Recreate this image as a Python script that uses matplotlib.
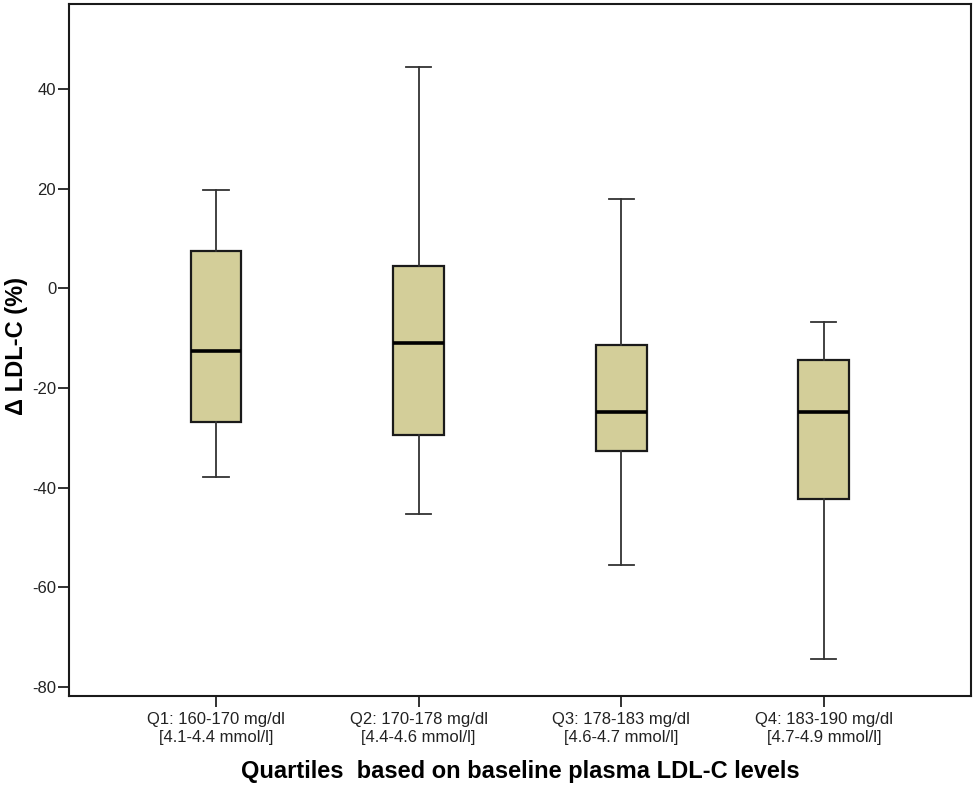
import matplotlib
matplotlib.use("Agg")
import matplotlib.pyplot as plt

categories = ["Q1: 160-170 mg/dl\n[4.1-4.4 mmol/l]",
              "Q2: 170-178 mg/dl\n[4.4-4.6 mmol/l]",
              "Q3: 178-183 mg/dl\n[4.6-4.7 mmol/l]",
              "Q4: 183-190 mg/dl\n[4.7-4.9 mmol/l]"]
whisker_low = [-37.8, -45.4, -55.5, -74.4]
q1_values = [-26.9, -29.5, -32.6, -42.3]
medians = [-12.6, -10.9, -24.8, -24.8]
q3_values = [7.5, 4.5, -11.4, -14.3]
whisker_high = [19.7, 44.4, 17.9, -6.7]
y_ticks = [40, 20, 0, -20, -40, -60, -80]

plt.rcParams['font.family'] = ['Liberation Sans', 'DejaVu Sans']

W, H = 975, 789
fig = plt.figure(figsize=(W / 100, H / 100), dpi=100)
ax = fig.add_axes([0.0705, 0.1183, 0.9255, 0.876])

stats = []
for lab, lo, a, m, b, hi in zip(categories, whisker_low, q1_values, medians, q3_values, whisker_high):
    stats.append(dict(label=lab, whislo=lo, q1=a, med=m, q3=b, whishi=hi, fliers=[]))

positions = [1, 2, 3, 4]
ax.bxp(stats, positions=positions, widths=0.25, patch_artist=True, showfliers=False,
       boxprops=dict(facecolor='#D3CE99', edgecolor='#1a1a1a', linewidth=1.6),
       medianprops=dict(color='black', linewidth=2.6),
       whiskerprops=dict(color='#333333', linewidth=1.3),
       capprops=dict(color='#333333', linewidth=1.3),
       capwidths=0.125)

ax.set_xlim(0.273, 4.727)
ax.set_ylim(-81.8, 57.0)
ax.set_yticks(y_ticks)
ax.set_yticklabels([str(t) for t in y_ticks])
ax.set_xticks(positions)
ax.set_xticklabels(categories, linespacing=1.2)

ax.tick_params(axis='both', direction='out', length=8, width=1.3, labelsize=12, colors='#222222')
ax.tick_params(axis='x', pad=4)
ax.tick_params(axis='y', pad=1)
for s in ax.spines.values():
    s.set_linewidth(1.5)
    s.set_color('#1a1a1a')

ax.set_ylabel("Δ LDL-C (%)", fontsize=17, fontweight='bold', va='center')
ax.set_xlabel("Quartiles  based on baseline plasma LDL-C levels", fontsize=17, fontweight='bold', va='center')

# label positions in axes coordinates (from pixel positions)
ax_left, ax_right, ax_top, ax_bottom = 68.7, 971.0, 4.5, 695.7
ax.yaxis.set_label_coords((16 - ax_left) / (ax_right - ax_left), (ax_bottom - 346) / (ax_bottom - ax_top))
ax.xaxis.set_label_coords((520 - ax_left) / (ax_right - ax_left), (ax_bottom - 772) / (ax_bottom - ax_top))

fig.savefig("out.png", dpi=100)
